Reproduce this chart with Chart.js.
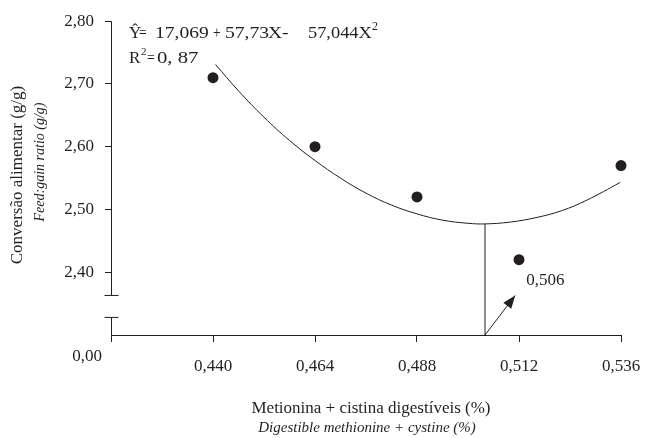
<!DOCTYPE html>
<html>
<head>
<meta charset="utf-8">
<script src="https://cdn.jsdelivr.net/npm/chart.js@4.4.1/dist/chart.umd.min.js"></script>
<style>
  html, body { margin: 0; padding: 0; background: #fff; }
  #wrap { width: 646px; height: 438px; position: relative; }
</style>
</head>
<body>
<div id="wrap"><canvas id="myChart"></canvas></div>
<script>
// values
const xTicks = [0.416, 0.440, 0.464, 0.488, 0.512, 0.536];
const xLabels = ['0,00', '0,440', '0,464', '0,488', '0,512', '0,536'];
const yTicks = [2.40, 2.50, 2.60, 2.70, 2.80];
const yBreak = [2.363, 2.328]; // where the y axis is cut

const metCys = [0.440, 0.464, 0.488, 0.512, 0.536];
const feedGain = [2.71, 2.60, 2.52, 2.42, 2.57];

// fitted curve as drawn in the figure
const curveX = [0.4406, 0.446, 0.452, 0.458, 0.464, 0.470, 0.476, 0.482, 0.488, 0.494, 0.500, 0.504, 0.510, 0.516, 0.522, 0.528, 0.5358];
const curveY = [2.731, 2.689, 2.647, 2.610, 2.578, 2.550, 2.526, 2.507, 2.493, 2.483, 2.478, 2.477, 2.480, 2.487, 2.498, 2.515, 2.543];

const optimumX = 0.504;      // where the vertical line sits
const optimumLabel = '0,506';
const optimumY = 2.477;
const arrowTip = [0.5111, 2.363];
const labelPos = [0.5137, 2.387];

const ink = '#231f20';
const serif = '"Liberation Serif", "Times New Roman", serif';

// text drawn slightly wide, like the original typesetting
function wideText(ctx, str, x, y, size, sx) {
    ctx.save();
    ctx.translate(x, y);
    ctx.scale(sx, 1);
    ctx.font = size + 'px ' + serif;
    ctx.fillText(str, 0, 0);
    ctx.restore();
}

const annotations = {
    id: 'annotations',
    afterDraw(chart) {
        const ctx = chart.ctx;
        const xs = chart.scales.x, ys = chart.scales.y;
        const area = chart.chartArea;
        ctx.save();
        ctx.strokeStyle = ink;
        ctx.fillStyle = ink;
        ctx.lineWidth = 1;

        // broken y axis
        const ax = Math.round(area.left) + 0.5;
        const yTop = ys.getPixelForValue(yTicks[yTicks.length - 1]);
        const yCut1 = ys.getPixelForValue(yBreak[0]);
        const yCut2 = ys.getPixelForValue(yBreak[1]);
        ctx.beginPath();
        ctx.moveTo(ax, yTop); ctx.lineTo(ax, yCut1);
        ctx.moveTo(ax - 7, yCut1); ctx.lineTo(ax + 7, yCut1);
        ctx.moveTo(ax - 7, yCut2); ctx.lineTo(ax + 7, yCut2);
        ctx.moveTo(ax, yCut2); ctx.lineTo(ax, area.bottom);
        ctx.stroke();

        // arrow head
        const x0 = xs.getPixelForValue(optimumX), y0 = ys.getPixelForValue(ys.min);
        const x1 = xs.getPixelForValue(arrowTip[0]), y1 = ys.getPixelForValue(arrowTip[1]);
        const ang = Math.atan2(y1 - y0, x1 - x0);
        const hl = 13, hw = 5;
        ctx.beginPath();
        ctx.moveTo(x1, y1);
        ctx.lineTo(x1 - hl * Math.cos(ang) + hw * Math.sin(ang), y1 - hl * Math.sin(ang) - hw * Math.cos(ang));
        ctx.lineTo(x1 - hl * Math.cos(ang) - hw * Math.sin(ang), y1 - hl * Math.sin(ang) + hw * Math.cos(ang));
        ctx.closePath();
        ctx.fill();

        // optimum label
        ctx.font = '17px ' + serif;
        ctx.textAlign = 'left';
        ctx.textBaseline = 'middle';
        ctx.fillText(optimumLabel, xs.getPixelForValue(labelPos[0]), ys.getPixelForValue(labelPos[1]));

        // origin label
        ctx.textAlign = 'center';
        ctx.fillText(xLabels[0], area.left - 24, area.bottom + 22);

        // regression equation, laid out piece by piece
        ctx.textAlign = 'left';
        ctx.textBaseline = 'alphabetic';
        const L = area.left, b1 = area.top + 17, b2 = area.top + 42;
        const sx = 1.15;
        wideText(ctx, '\u0176', L + 18, b1, 17, 1);
        wideText(ctx, '=', L + 28, b1, 17, 0.8);
        wideText(ctx, '17,069', L + 44, b1, 17, sx);
        wideText(ctx, '+', L + 102, b1, 17, 0.8);
        wideText(ctx, '57,73', L + 114, b1, 17, sx);
        wideText(ctx, 'X-', L + 157, b1, 17, sx);
        wideText(ctx, '57,044X', L + 197, b1, 17, 1.08);
        wideText(ctx, '2', L + 261, b1 - 8, 12, 1);
        wideText(ctx, 'R', L + 18, b2, 17, 1);
        wideText(ctx, '2', L + 30, b2 - 8, 11, 1);
        wideText(ctx, '=', L + 36, b2, 17, 0.8);
        wideText(ctx, '0, 87', L + 46, b2, 17, 1.22);

        // axis titles
        ctx.textAlign = 'center';
        ctx.textBaseline = 'middle';
        ctx.font = '17px ' + serif;
        ctx.fillText('Metionina + cistina digestíveis (%)', 371, 409);
        ctx.font = 'italic 15px ' + serif;
        ctx.fillText('Digestible methionine + cystine (%)', 367, 428);

        ctx.translate(18, 175);
        ctx.rotate(-Math.PI / 2);
        ctx.font = '17px ' + serif;
        ctx.fillText('Conversão alimentar (g/g)', 0, 0);
        ctx.rotate(Math.PI / 2);
        ctx.translate(22, -13);
        ctx.rotate(-Math.PI / 2);
        ctx.font = 'italic 14px ' + serif;
        ctx.fillText('Feed:gain ratio (g/g)', 0, 0);
        ctx.restore();
    }
};

function plotGraph() {
    const ctx = document.getElementById('myChart').getContext('2d');
    new Chart(ctx, {
        type: 'scatter',
        data: {
            datasets: [{
                data: metCys.map((x, i) => ({ x: x, y: feedGain[i] })),
                pointRadius: 5.5,
                pointBackgroundColor: ink,
                pointBorderWidth: 0,
                showLine: false
            }, {
                data: curveX.map((x, i) => ({ x: x, y: curveY[i] })),
                showLine: true,
                borderColor: ink,
                borderWidth: 1,
                pointRadius: 0,
                tension: 0.4
            }, {
                data: [{ x: optimumX, y: 2.30 }, { x: optimumX, y: optimumY }],
                showLine: true,
                borderColor: ink,
                borderWidth: 1,
                pointRadius: 0
            }, {
                data: [{ x: optimumX, y: 2.30 }, { x: arrowTip[0], y: arrowTip[1] }],
                showLine: true,
                borderColor: ink,
                borderWidth: 1,
                pointRadius: 0
            }]
        },
        options: {
            responsive: true,
            maintainAspectRatio: false,
            animation: false,
            clip: false,
            layout: { padding: { left: 0, right: 25, top: 20, bottom: 0 } },
            scales: {
                x: {
                    type: 'linear',
                    min: 0.416,
                    max: 0.536,
                    afterBuildTicks: s => { s.ticks = xTicks.map(v => ({ value: v })); },
                    afterFit: s => { s.height = 103; s.paddingLeft = 0; s.paddingRight = 0; },
                    grid: { drawOnChartArea: false, tickLength: 7, color: ink },
                    border: { color: ink, width: 1 },
                    ticks: {
                        color: ink,
                        font: { family: serif, size: 17 },
                        padding: 14,
                        maxRotation: 0,
                        callback: (v, i) => (i === 0 ? '' : xLabels[i])
                    }
                },
                y: {
                    min: 2.30,
                    max: 2.80,
                    afterBuildTicks: s => { s.ticks = yTicks.map(v => ({ value: v })); },
                    afterFit: s => { s.width = 111; },
                    grid: { drawOnChartArea: false, tickLength: 6, color: ink },
                    border: { display: false },
                    ticks: {
                        color: ink,
                        font: { family: serif, size: 17 },
                        padding: 11,
                        callback: v => v.toFixed(2).replace('.', ',')
                    }
                }
            },
            plugins: {
                legend: { display: false },
                tooltip: { enabled: false }
            }
        },
        plugins: [annotations]
    });
}

plotGraph();
</script>
</body>
</html>
